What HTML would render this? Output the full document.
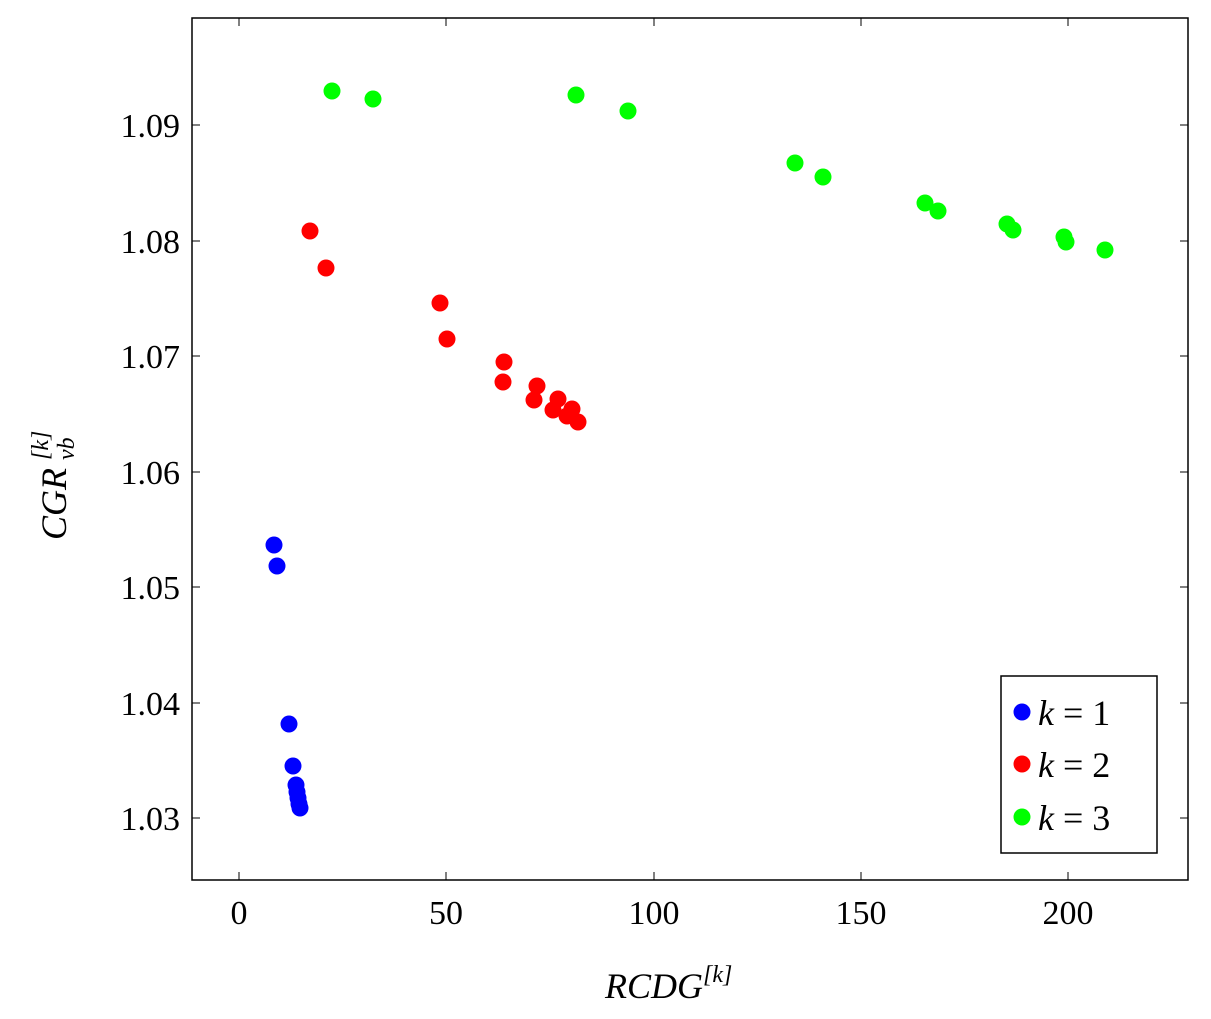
<!DOCTYPE html>
<html><head><meta charset="utf-8"><style>body{margin:0;background:#fff}svg{display:block}</style></head><body>
<svg width="1211" height="1019" xmlns="http://www.w3.org/2000/svg" font-family="'Liberation Serif',serif">
<rect x="192" y="18" width="996" height="862" fill="none" stroke="#000" stroke-width="1.5"/>
<g stroke="#000" stroke-width="1">
<line x1="239" y1="880" x2="239" y2="872"/><line x1="446" y1="880" x2="446" y2="872"/><line x1="654" y1="880" x2="654" y2="872"/><line x1="861" y1="880" x2="861" y2="872"/><line x1="1068" y1="880" x2="1068" y2="872"/>
<line x1="239" y1="18" x2="239" y2="26"/><line x1="446" y1="18" x2="446" y2="26"/><line x1="654" y1="18" x2="654" y2="26"/><line x1="861" y1="18" x2="861" y2="26"/><line x1="1068" y1="18" x2="1068" y2="26"/>
<line x1="192" y1="125" x2="200" y2="125"/><line x1="192" y1="241" x2="200" y2="241"/><line x1="192" y1="356" x2="200" y2="356"/><line x1="192" y1="472" x2="200" y2="472"/><line x1="192" y1="587" x2="200" y2="587"/><line x1="192" y1="703" x2="200" y2="703"/><line x1="192" y1="818" x2="200" y2="818"/>
<line x1="1188" y1="125" x2="1180" y2="125"/><line x1="1188" y1="241" x2="1180" y2="241"/><line x1="1188" y1="356" x2="1180" y2="356"/><line x1="1188" y1="472" x2="1180" y2="472"/><line x1="1188" y1="587" x2="1180" y2="587"/><line x1="1188" y1="703" x2="1180" y2="703"/><line x1="1188" y1="818" x2="1180" y2="818"/>
</g>
<g font-size="34" text-anchor="middle">
<text x="239" y="924">0</text><text x="446" y="924">50</text><text x="654" y="924">100</text><text x="861" y="924">150</text><text x="1068" y="924">200</text>
</g>
<g font-size="34" text-anchor="end">
<text x="180" y="137">1.09</text><text x="180" y="253">1.08</text><text x="180" y="368">1.07</text><text x="180" y="484">1.06</text><text x="180" y="599">1.05</text><text x="180" y="715">1.04</text><text x="180" y="830">1.03</text>
</g>
<text x="605" y="998" font-size="36" font-style="italic">RCDG<tspan font-size="24" dy="-16">[k]</tspan></text>
<g transform="translate(66,540) rotate(-90)" font-style="italic">
<text x="0" y="0" font-size="36">CGR</text>
<text x="80" y="8" font-size="24">vb</text>
<text x="80" y="-18" font-size="24">[k]</text>
</g>
<g fill="#0000ff">
<circle cx="274" cy="545" r="8.5"/><circle cx="277" cy="566" r="8.5"/><circle cx="289" cy="724" r="8.5"/><circle cx="293" cy="766" r="8.5"/><circle cx="296" cy="785" r="8.5"/><circle cx="297" cy="792" r="8.5"/><circle cx="298" cy="798" r="8.5"/><circle cx="299" cy="804" r="8.5"/><circle cx="300" cy="808" r="8.5"/>
</g>
<g fill="#ff0000">
<circle cx="310" cy="231" r="8.5"/><circle cx="326" cy="268" r="8.5"/><circle cx="440" cy="303" r="8.5"/><circle cx="447" cy="339" r="8.5"/><circle cx="504" cy="362" r="8.5"/><circle cx="503" cy="382" r="8.5"/><circle cx="537" cy="386" r="8.5"/><circle cx="534" cy="400" r="8.5"/><circle cx="558" cy="399" r="8.5"/><circle cx="553" cy="410" r="8.5"/><circle cx="572" cy="409" r="8.5"/><circle cx="567" cy="416" r="8.5"/><circle cx="578" cy="422" r="8.5"/>
</g>
<g fill="#00ff00">
<circle cx="332" cy="91" r="8.5"/><circle cx="373" cy="99" r="8.5"/><circle cx="576" cy="95" r="8.5"/><circle cx="628" cy="111" r="8.5"/><circle cx="795" cy="163" r="8.5"/><circle cx="823" cy="177" r="8.5"/><circle cx="925" cy="203" r="8.5"/><circle cx="938" cy="211" r="8.5"/><circle cx="1007" cy="224" r="8.5"/><circle cx="1013" cy="230" r="8.5"/><circle cx="1064" cy="237" r="8.5"/><circle cx="1066" cy="242" r="8.5"/><circle cx="1105" cy="250" r="8.5"/>
</g>
<rect x="1001" y="676" width="156" height="177" fill="#fff" stroke="#000" stroke-width="1.5"/>
<circle cx="1022" cy="712" r="8.5" fill="#0000ff"/><circle cx="1022" cy="764" r="8.5" fill="#ff0000"/><circle cx="1022" cy="817" r="8.5" fill="#00ff00"/>
<g font-size="36"><text x="1038" y="725"><tspan font-style="italic">k</tspan> = 1</text><text x="1038" y="777"><tspan font-style="italic">k</tspan> = 2</text><text x="1038" y="830"><tspan font-style="italic">k</tspan> = 3</text></g>
</svg>
</body></html>
